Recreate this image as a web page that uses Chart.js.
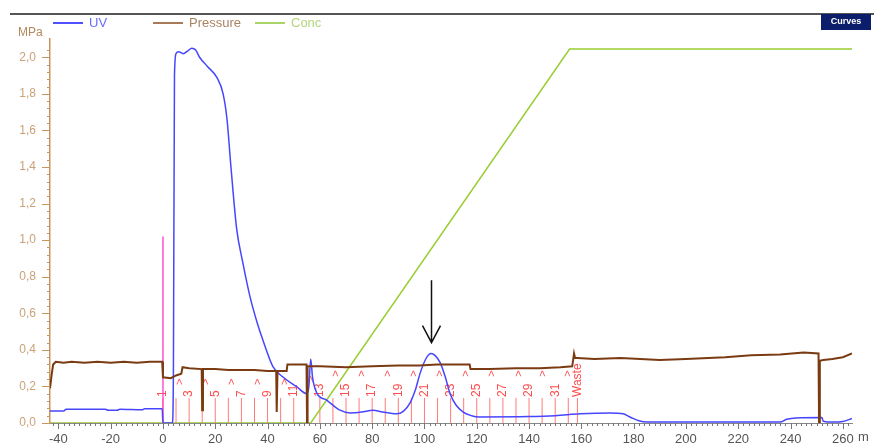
<!DOCTYPE html>
<html>
<head>
<meta charset="utf-8">
<script src="https://cdn.jsdelivr.net/npm/chart.js@4.4.1/dist/chart.umd.min.js"></script>
<style>
  html, body { margin: 0; padding: 0; background: #fff; }
</style>
</head>
<body>
<canvas id="myChart" width="875" height="448"></canvas>
<script>
// UV trace (mAU scaled onto the MPa axis as shown by the instrument)
const uvX = [-43.2, -38, -37, -22, -21, -17.5, -16.5, -8, -7, -0.3, 0, 3.6, 4.0, 4.4, 5, 6, 7.7, 9.5, 11, 12.5,
  14, 17, 20.6, 23, 24.5, 26, 28.2, 30.5, 33.3, 36, 38.3, 42, 46, 51, 55, 55.8, 56.5, 57.2, 58.8, 62.6,
  67.7, 71.5, 76, 80.3, 84, 89.4, 92, 94.5, 96.5, 98.3, 100.5, 102.5, 104, 106, 108, 109.8, 112, 114.8, 118, 121,
  140, 150, 159.5, 171, 176, 179, 182, 185, 236, 238.5, 242, 252, 252.5, 256, 260, 263.5];
const uvY = [0.065, 0.066, 0.075, 0.075, 0.07, 0.07, 0.075, 0.072, 0.078, 0.078, 0.0, 0.0, 0.3, 1.9, 2.02, 2.03, 2.02, 2.035, 2.05, 2.04,
  2.0, 1.95, 1.89, 1.8, 1.66, 1.4, 1.06, 0.88, 0.69, 0.55, 0.45, 0.31, 0.25, 0.2, 0.16, 0.2, 0.35, 0.25, 0.165, 0.125,
  0.07, 0.055, 0.06, 0.07, 0.06, 0.05, 0.065, 0.11, 0.18, 0.27, 0.35, 0.38, 0.37, 0.33, 0.25, 0.16, 0.1, 0.06, 0.04, 0.033,
  0.035, 0.04, 0.05, 0.055, 0.05, 0.03, 0.012, 0.005, 0.005, 0.02, 0.028, 0.03, 0.01, 0.005, 0.008, 0.025];

// system pressure, MPa
const pressX = [-43.2, -42.6, -42, -41, -38, -35, -30, -25, -20, -15, -10, -5, -0.3, 0, 3, 5, 7, 7.5, 10, 14.8,
  15, 15.3, 20, 25, 30, 35, 40, 43.3, 43.5, 43.8, 47.3, 47.6, 50, 54.9, 55.1, 55.3, 60, 70, 80, 90,
  98, 105, 117.3, 117.6, 125, 135, 144, 152, 156.5, 157.2, 157.6, 158.5, 165, 175, 190, 200, 215, 225, 236, 245,
  250.7, 250.9, 251.2, 252.5, 256, 260, 263.5];
const pressY = [0.19, 0.26, 0.32, 0.335, 0.33, 0.335, 0.33, 0.335, 0.33, 0.335, 0.33, 0.335, 0.335, 0.25, 0.245, 0.26, 0.27, 0.305, 0.3, 0.295,
  0.07, 0.295, 0.295, 0.29, 0.29, 0.29, 0.285, 0.285, 0.06, 0.285, 0.285, 0.32, 0.32, 0.32, 0.0, 0.31, 0.31, 0.305, 0.31, 0.315,
  0.315, 0.32, 0.32, 0.295, 0.295, 0.3, 0.3, 0.305, 0.31, 0.38, 0.355, 0.355, 0.35, 0.355, 0.345, 0.35, 0.36, 0.37, 0.375, 0.385,
  0.38, 0.0, 0.34, 0.345, 0.35, 0.36, 0.38];

// gradient concentration, % B
const concX = [-43.2, 56.5, 155.5, 263.5];
const concY = [0, 0, 100, 100];

// fraction marks
const fracX = [0, 5, 10, 15, 20, 25, 30, 35, 40, 45, 50, 55, 60, 65, 70, 75, 80, 85, 90, 95,
  100, 105, 110, 115, 120, 125, 130, 135, 140, 145, 150, 155, 158.5];
const fracNames = ['1', '', '3', '', '5', '', '7', '', '9', '', '11', '', '13', '', '15', '', '17', '', '19', '',
  '21', '', '23', '', '25', '', '27', '', '29', '', '31', '', 'Waste'];
const fracTop = 0.137;
const caretX = [6.5, 16.5, 26.5, 36.5, 46.5, 56.5, 66, 76, 86, 96, 106, 116, 126, 136, 145.5, 155];
const caretY = [0.225, 0.225, 0.225, 0.225, 0.225, 0.24, 0.27, 0.27, 0.27, 0.27, 0.27, 0.27, 0.27, 0.27, 0.27, 0.27];

// injection mark
const injX = [0, 0];
const injY = [0, 1.02];

// arrow pointing at the peak
const arrowX = 102.5;
const arrowFrom = 0.78;
const arrowTo = 0.44;

const xTicks = [-40, -20, 0, 20, 40, 60, 80, 100, 120, 140, 160, 180, 200, 220, 240, 260];
const yTicks = [0, 0.2, 0.4, 0.6, 0.8, 1.0, 1.2, 1.4, 1.6, 1.8, 2.0];

const pts = (xs, ys) => xs.map((v, i) => ({ x: v, y: ys[i] }));

const fracPts = [];
fracX.forEach(v => {
    fracPts.push({ x: v, y: 0 }, { x: v, y: fracTop }, { x: v, y: null });
});

const FONT = 'Arial, "Liberation Sans", sans-serif';

const extras = {
    id: 'extras',
    beforeDatasetsDraw(chart) {
        const ctx = chart.ctx;
        const x = chart.scales.x, y = chart.scales.y;
        ctx.save();
        ctx.fillStyle = '#ff4d4d';
        ctx.font = '12px ' + FONT;
        ctx.textBaseline = 'middle';
        ctx.textAlign = 'left';
        fracX.forEach((v, i) => {
            if (!fracNames[i]) return;
            ctx.save();
            ctx.translate(x.getPixelForValue(v), y.getPixelForValue(fracTop) - 1);
            ctx.rotate(-Math.PI / 2);
            ctx.fillText(fracNames[i], 0, 0);
            ctx.restore();
        });
        ctx.font = '11px ' + FONT;
        caretX.forEach((v, i) => {
            ctx.save();
            ctx.translate(x.getPixelForValue(v), y.getPixelForValue(caretY[i]));
            ctx.rotate(-Math.PI / 2);
            ctx.textAlign = 'center';
            ctx.fillText('>', 0, 0);
            ctx.restore();
        });
        ctx.restore();
    },
    afterDatasetsDraw(chart) {
        const ctx = chart.ctx;
        const x = chart.scales.x, y = chart.scales.y;
        const ax = Math.round(x.getPixelForValue(arrowX)) + 0.5;
        const top = y.getPixelForValue(arrowFrom);
        const tip = y.getPixelForValue(arrowTo);
        ctx.save();
        ctx.strokeStyle = '#111';
        ctx.lineWidth = 1.5;
        ctx.beginPath();
        ctx.moveTo(ax, top);
        ctx.lineTo(ax, tip);
        ctx.moveTo(ax - 9, tip - 17);
        ctx.lineTo(ax, tip);
        ctx.lineTo(ax + 9, tip - 17);
        ctx.stroke();
        ctx.restore();
    },
    afterDraw(chart) {
        const ctx = chart.ctx;
        const x = chart.scales.x, y = chart.scales.y;
        ctx.save();
        // x ticks
        ctx.strokeStyle = '#777';
        ctx.lineWidth = 1;
        ctx.beginPath();
        for (let v = -42; v <= 262; v += 2) {
            const px = Math.round(x.getPixelForValue(v)) + 0.5;
            const len = v % 20 === 0 ? 6 : 3;
            ctx.moveTo(px, y.bottom);
            ctx.lineTo(px, y.bottom + len);
        }
        ctx.stroke();
        // y ticks
        ctx.strokeStyle = '#c8965a';
        ctx.beginPath();
        for (let i = 0; i <= 51; i++) {
            const py = Math.round(y.getPixelForValue(i * 0.04)) + 0.5;
            const len = i % 5 === 0 ? 8 : 3;
            ctx.moveTo(x.left, py);
            ctx.lineTo(x.left - len, py);
        }
        ctx.stroke();

        // unit labels
        ctx.font = '12px ' + FONT;
        ctx.textBaseline = 'middle';
        ctx.textAlign = 'left';
        ctx.fillStyle = '#b5895f';
        ctx.fillText('MPa', 18, 33);
        ctx.fillStyle = '#555';
        ctx.font = '13px ' + FONT;
        ctx.fillText('m', 858, 437);

        // header rule and button
        ctx.strokeStyle = '#555';
        ctx.lineWidth = 2;
        ctx.beginPath();
        ctx.moveTo(10, 14);
        ctx.lineTo(874, 14);
        ctx.stroke();
        ctx.fillStyle = '#0b1d6b';
        ctx.fillRect(821, 14, 50, 16);
        ctx.fillStyle = '#fff';
        ctx.font = 'bold 9px ' + FONT;
        ctx.textAlign = 'center';
        ctx.fillText('Curves', 846, 22);

        // legend
        const legend = [
            { name: 'UV', line: '#5050ff', text: '#6b6bff', x0: 53 },
            { name: 'Pressure', line: '#a87a5a', text: '#a98463', x0: 153 },
            { name: 'Conc', line: '#a8d46a', text: '#b2d67c', x0: 255 }
        ];
        ctx.font = '13px ' + FONT;
        ctx.textAlign = 'left';
        legend.forEach(it => {
            ctx.strokeStyle = it.line;
            ctx.lineWidth = 2;
            ctx.beginPath();
            ctx.moveTo(it.x0, 23);
            ctx.lineTo(it.x0 + 30, 23);
            ctx.stroke();
            ctx.fillStyle = it.text;
            ctx.fillText(it.name, it.x0 + 36, 23);
        });
        ctx.restore();
    }
};

const data = {
    datasets: [
        {
            label: 'Pressure',
            data: pts(pressX, pressY),
            borderColor: '#7b3b12',
            borderWidth: 2,
            yAxisID: 'y'
        },
        {
            label: 'UV',
            data: pts(uvX, uvY),
            borderColor: '#4646ff',
            borderWidth: 1.5,
            cubicInterpolationMode: 'monotone',
            yAxisID: 'y'
        },
        {
            label: 'Conc',
            data: pts(concX, concY),
            borderColor: '#9acd32',
            borderWidth: 1.5,
            yAxisID: 'y2'
        },
        {
            label: 'Injection',
            data: pts(injX, injY),
            borderColor: '#ff50d0',
            borderWidth: 1.5,
            yAxisID: 'y'
        },
        {
            label: 'Fractions',
            data: fracPts,
            borderColor: '#ff7a7a',
            borderWidth: 1,
            spanGaps: false,
            yAxisID: 'y'
        }
    ]
};

const conf = {
    type: 'line',
    data,
    options: {
        responsive: false,
        animation: false,
        devicePixelRatio: 1,
        parsing: false,
        elements: { point: { radius: 0 }, line: { tension: 0 } },
        layout: { padding: { left: 0, right: 23, top: 39, bottom: 0 } },
        plugins: { legend: { display: false }, tooltip: { enabled: false } },
        scales: {
            x: {
                type: 'linear',
                min: -43.2,
                max: 263.5,
                afterBuildTicks: s => { s.ticks = xTicks.map(v => ({ value: v })); },
                afterFit: s => { s.height = 25; },
                grid: { display: false, drawTicks: false },
                border: { display: true, color: '#888', width: 1 },
                ticks: {
                    color: '#555',
                    padding: 9,
                    maxRotation: 0,
                    autoSkip: false,
                    font: { family: FONT, size: 13 },
                    callback: v => String(v)
                }
            },
            y: {
                type: 'linear',
                min: 0,
                max: 2.1,
                afterBuildTicks: s => { s.ticks = yTicks.map(v => ({ value: v })); },
                afterFit: s => { s.width = 50; },
                grid: { display: false, drawTicks: false },
                border: { display: true, color: '#c8965a', width: 1.5 },
                ticks: {
                    color: '#c9a27a',
                    padding: 14,
                    autoSkip: false,
                    font: { family: FONT, size: 12 },
                    callback: v => v.toFixed(1).replace('.', ',')
                }
            },
            y2: {
                type: 'linear',
                display: false,
                min: 0,
                max: 102.7
            }
        }
    },
    plugins: [extras]
};

const myChart = new Chart(document.getElementById('myChart'), conf);
</script>
</body>
</html>
